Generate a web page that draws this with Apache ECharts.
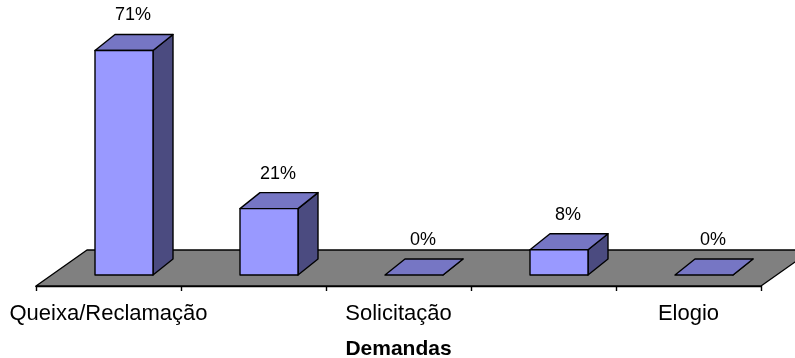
<!DOCTYPE html>
<html>
<head>
<meta charset="utf-8">
<script src="https://cdn.jsdelivr.net/npm/echarts@6/dist/echarts.min.js"></script>
<style>
  html, body { margin: 0; padding: 0; background: #ffffff; }
  #chart { width: 795px; height: 358px; }
</style>
</head>
<body>
<div id="chart"></div>
<script>
// Demand types and their share of the total (%)
const categories = ['Queixa/Reclamação', 'Denúncia', 'Solicitação', 'Sugestão', 'Elogio'];
const shares = [71, 21, 0, 8, 0];
const axisTitle = 'Demandas';

// 3D look: where the bars sit on the floor and how deep they are
const SHIFT_X = 15.5, SHIFT_Y = -11;
const DEPTH_X = 20, DEPTH_Y = -16;
const FLOOR_DX = 51, FLOOR_DY = -36;
const BAR_RATIO = 0.4;

const FONT = '"Liberation Sans", Arial, sans-serif';
const EDGE = { stroke: '#000000', lineWidth: 1.4, lineJoin: 'round' };

function renderFloor(params, api) {
  const band = api.size([1, 0])[0];
  const first = api.coord([0, 0]);
  const last = api.coord([categories.length - 1, 0]);
  const left = first[0] - band / 2;
  const right = last[0] + band / 2;
  const y = first[1];
  return {
    type: 'polygon',
    shape: { points: [[left, y], [right, y], [right + FLOOR_DX, y + FLOOR_DY], [left + FLOOR_DX, y + FLOOR_DY]] },
    style: Object.assign({ fill: '#808080' }, EDGE)
  };
}

function renderBar(params, api) {
  const i = api.value(0);
  const v = api.value(1);
  const base = api.coord([i, 0]);
  const top = api.coord([i, v]);
  const bw = api.size([1, 0])[0] * BAR_RATIO;
  const x0 = base[0] - bw / 2 + SHIFT_X;
  const x1 = x0 + bw;
  const yb = base[1] + SHIFT_Y;
  const yt = top[1] + SHIFT_Y;
  const children = [];
  // right side face
  children.push({
    type: 'polygon',
    shape: { points: [[x1, yb], [x1, yt], [x1 + DEPTH_X, yt + DEPTH_Y], [x1 + DEPTH_X, yb + DEPTH_Y]] },
    style: Object.assign({ fill: '#4b4b80' }, EDGE)
  });
  // top face
  children.push({
    type: 'polygon',
    shape: { points: [[x0, yt], [x1, yt], [x1 + DEPTH_X, yt + DEPTH_Y], [x0 + DEPTH_X, yt + DEPTH_Y]] },
    style: Object.assign({ fill: '#7676c4' }, EDGE)
  });
  // front face
  if (yb - yt > 0.5) {
    children.push({
      type: 'rect',
      shape: { x: x0, y: yt, width: bw, height: yb - yt },
      style: Object.assign({ fill: '#9999ff' }, EDGE)
    });
  }
  // value label
  children.push({
    type: 'text',
    style: {
      text: v + '%',
      x: (x0 + x1) / 2 + 9,
      y: yt - 35,
      align: 'center',
      verticalAlign: 'middle',
      fill: '#000000',
      font: '18px ' + FONT
    }
  });
  return { type: 'group', children: children };
}

const chart = echarts.init(document.getElementById('chart'), null, { renderer: 'canvas' });
chart.setOption({
  animation: false,
  backgroundColor: '#ffffff',
  grid: { left: 36, width: 725, top: 33, height: 253, outerBoundsMode: 'none', containLabel: false },
  xAxis: {
    type: 'category',
    data: categories,
    name: axisTitle,
    nameLocation: 'middle',
    nameGap: 53,
    nameTextStyle: { fontFamily: FONT, fontSize: 21, fontWeight: 'bold', color: '#000000' },
    axisLine: { show: true, lineStyle: { color: '#000000', width: 1.4 } },
    axisTick: { show: true, interval: 0, length: 5, lineStyle: { color: '#000000', width: 1.4 } },
    axisLabel: { interval: 1, margin: 17, fontFamily: FONT, fontSize: 22, color: '#000000' },
    splitLine: { show: false }
  },
  yAxis: {
    type: 'value',
    min: 0,
    max: 80,
    show: false,
    splitLine: { show: false }
  },
  series: [
    {
      type: 'custom',
      silent: true,
      renderItem: renderFloor,
      encode: { x: 0, y: 1 },
      data: [[0, 0]],
      z: 1
    },
    {
      type: 'custom',
      renderItem: renderBar,
      encode: { x: 0, y: 1 },
      data: shares.map((s, i) => [i, s]),
      z: 2
    }
  ]
});
</script>
</body>
</html>
